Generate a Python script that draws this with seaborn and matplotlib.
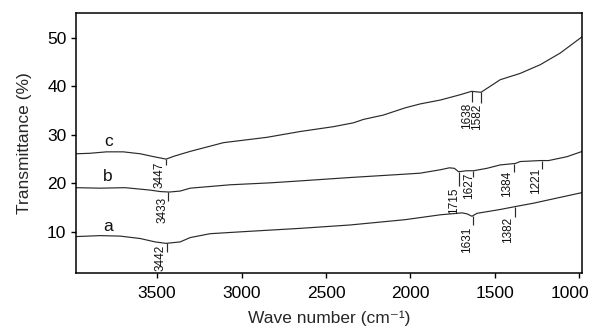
import numpy as np
import pandas as pd
import matplotlib
matplotlib.use("Agg")
import matplotlib.pyplot as plt
import matplotlib.transforms as mtransforms
import seaborn as sns

# ------------------------------
# Data (wave number, transmittance %)
# ------------------------------
wn_a = [3980, 3838, 3719, 3600, 3512, 3447, 3364, 3304, 3186, 2949, 2653, 2357,
        2030, 1823, 1695, 1665, 1636, 1606, 1468, 1379, 1271, 982]
val_a = [9.0, 9.2, 9.1, 8.6, 7.9, 7.6, 7.9, 8.8, 9.6, 10.1, 10.7, 11.4,
         12.5, 13.5, 13.9, 13.7, 13.2, 13.8, 14.6, 15.2, 15.9, 18.1]

wn_b = [3980, 3838, 3690, 3600, 3541, 3482, 3429, 3364, 3304, 3067, 2830, 2653,
        2357, 2030, 1942, 1823, 1770, 1740, 1715, 1665, 1626, 1547, 1468, 1379,
        1350, 1231, 1182, 1073, 982]
val_b = [19.1, 19.0, 19.1, 18.8, 18.6, 18.3, 18.2, 18.4, 19.0, 19.7, 20.1, 20.5,
         21.2, 21.9, 22.1, 22.8, 23.2, 23.1, 22.4, 22.6, 22.6, 23.1, 23.8, 24.1,
         24.5, 24.7, 24.7, 25.5, 26.6]

wn_c = [3980, 3900, 3800, 3700, 3600, 3520, 3447, 3400, 3304, 3107, 2850, 2653,
        2456, 2337, 2278, 2160, 2030, 1942, 1823, 1705, 1638, 1582, 1468, 1350,
        1231, 1113, 982]
val_c = [26.1, 26.2, 26.5, 26.5, 26.1, 25.5, 25.0, 25.6, 26.6, 28.4, 29.5, 30.7,
         31.7, 32.5, 33.2, 34.1, 35.6, 36.4, 37.2, 38.3, 39.0, 38.8, 41.4, 42.7,
         44.5, 46.9, 50.3]

# peak markers: curve, wave number, label
peak_curve = ["c", "b", "a", "c", "c", "b", "b", "b", "b", "a", "a"]
peak_wn = [3447, 3433, 3442, 1638, 1582, 1715, 1627, 1384, 1221, 1631, 1382]
peak_text = ["3447", "3433", "3442", "1638", "1582", "1715", "1627", "1384",
             "1221", "1631", "1382"]
# tick length (data units) and label offsets (points)
peak_len = [1.3, 1.9, 1.7, 2.3, 2.3, 2.9, 1.3, 1.7, 1.7, 1.9, 2.1]
peak_dx = [-4.5, -4.5, -4.5, -3.5, -2.5, -3.5, -3.5, -5, -4.5, -4, -5]
peak_dy = [3, 3, 5, 0, 0, -1, 3, 1, 1, -1.5, 0]

curve_lbl_wn = [3790, 3790, 3790]
curve_lbl_val = [11.0, 21.4, 28.6]
curve_lbl = ["a", "b", "c"]

curves = {"a": (wn_a, val_a), "b": (wn_b, val_b), "c": (wn_c, val_c)}

rows = []
for name, (w, v) in curves.items():
    for xi, yi in zip(w, v):
        rows.append({"wn": xi, "T": yi, "curve": name})
df = pd.DataFrame(rows)

# ------------------------------
# Plot
# ------------------------------
sns.set_theme(style="ticks")
plt.rcParams["font.family"] = ["Liberation Sans", "DejaVu Sans"]

fig = plt.figure(figsize=(5.9, 3.3), dpi=100)
ax = fig.add_axes([0.129, 0.173, 0.858, 0.788])

line_col = "#2a2a2a"
sns.lineplot(data=df, x="wn", y="T", units="curve", estimator=None,
             color=line_col, linewidth=0.85, ax=ax)

for name, w, t, L, dx, dy in zip(peak_curve, peak_wn, peak_text, peak_len,
                                 peak_dx, peak_dy):
    cw, cv = curves[name]
    y0 = np.interp(w, cw[::-1], cv[::-1])
    ax.vlines(w, y0 - L, y0, color=line_col, linewidth=0.85)
    ax.annotate(t, xy=(w, y0 - L), xytext=(dx, dy), textcoords="offset points",
                rotation=90, ha="center", va="top", fontsize=8.5, color="#111")

for xi, yi, s in zip(curve_lbl_wn, curve_lbl_val, curve_lbl):
    ax.text(xi, yi, s, ha="center", va="center", fontsize=12.5, color="#111")

ax.set_xlim(3980, 982)
ax.set_ylim(1.5, 55.2)
ax.set_xticks([3500, 3000, 2500, 2000, 1500, 1000])
ax.set_yticks([10, 20, 30, 40, 50])
ax.set_xlabel("Wave number (cm⁻¹)", fontsize=12.5, labelpad=7)
ax.set_ylabel("Transmittance (%)", fontsize=12.5, labelpad=11)
ax.tick_params(axis="both", direction="out", length=3.5, width=1,
               labelsize=12.5, color="black", labelcolor="black")
ax.tick_params(axis="x", pad=6)
for sp in ax.spines.values():
    sp.set_color("black")
    sp.set_linewidth(1.1)
    sp.set_visible(True)
ax.grid(False)

# the last x label sits a little to the left of its tick, as in the original
last = ax.get_xticklabels()[-1]
last.set_transform(last.get_transform() +
                   mtransforms.ScaledTranslation(-7 / 72, 0, fig.dpi_scale_trans))

fig.savefig("out.png", dpi=100)
